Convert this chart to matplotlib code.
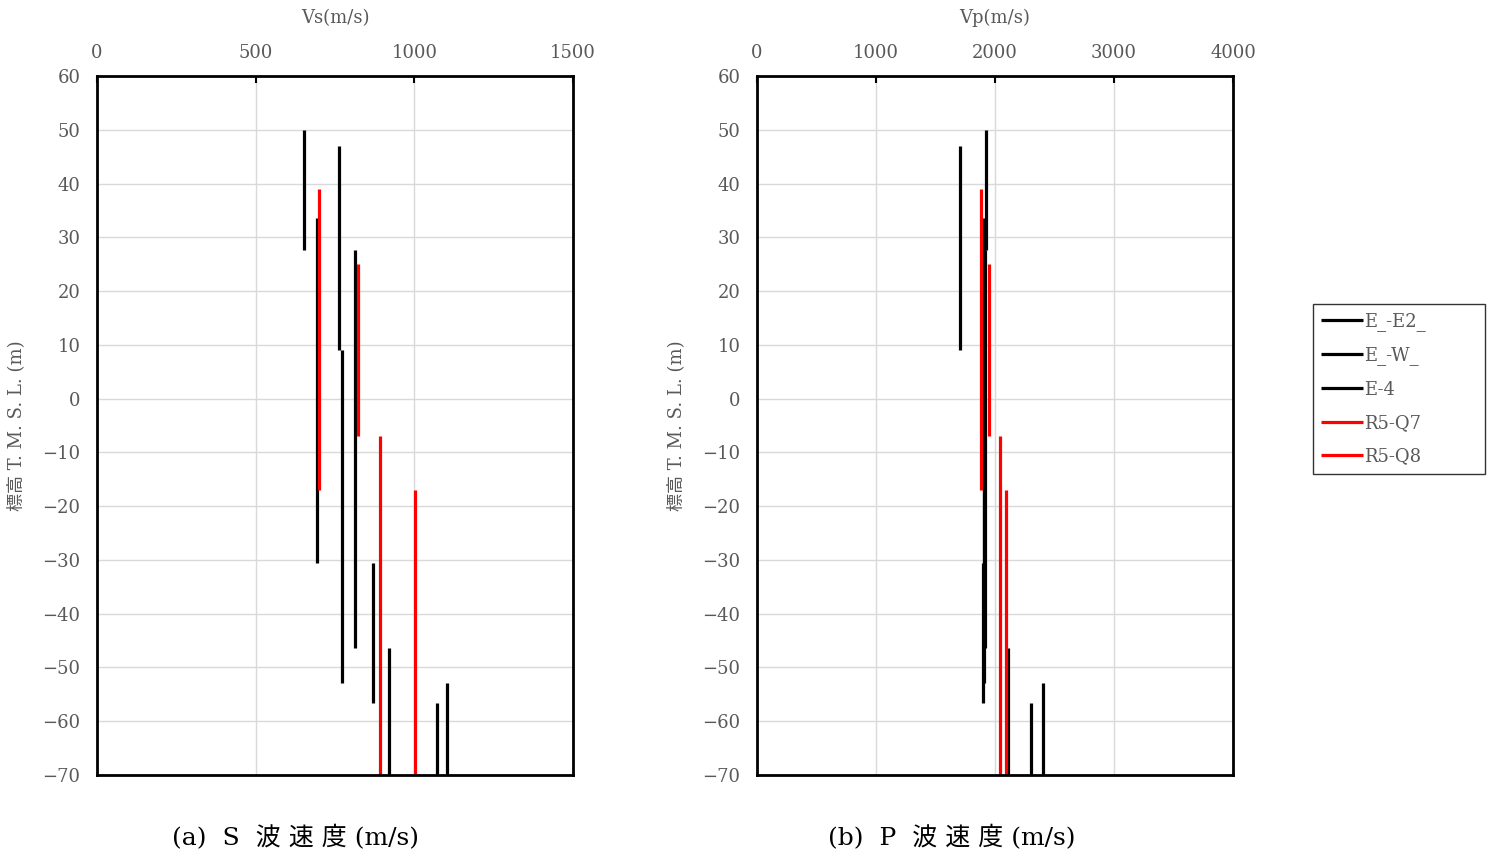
import matplotlib.pyplot as plt

plt.rcParams['font.family'] = ['DejaVu Serif', 'Noto Sans CJK JP']

# borehole names and colours
names = ["E_-E2_", "E_-W_", "E-4", "R5-Q7", "R5-Q8"]
colors = ["black", "black", "black", "red", "red"]

# layer boundaries (elevation, m) for each borehole, top to bottom
depths = [
    [50, 27.7, -46.4, -70],
    [47, 9, -52.9, -70],
    [33.5, -30.5, -56.7, -70],
    [39, -17, -70],
    [25, -7, -70],
]

# S-wave velocity of each layer (m/s)
vs = [
    [652, 813, 921],
    [762, 772, 1102],
    [692, 871, 1073],
    [701, 1002],
    [822, 892],
]

# P-wave velocity of each layer (m/s)
vp = [
    [1924, 1915, 2112],
    [1703, 1905, 2406],
    [1908, 1898, 2303],
    [1882, 2095],
    [1952, 2045],
]

gray = "#595959"

fig = plt.figure(figsize=(14.88, 8.58), dpi=100)
ax1 = fig.add_axes([97 / 1488, 1 - 775 / 858, 476 / 1488, 699 / 858])
ax2 = fig.add_axes([757 / 1488, 1 - 775 / 858, 476 / 1488, 699 / 858])


def draw(ax, vel, xmax, xstep, xlabel):
    for i, name in enumerate(names):
        d = depths[i]
        for j, v in enumerate(vel[i]):
            ax.plot([v, v], [d[j], d[j + 1]], color=colors[i], lw=2.3,
                    solid_capstyle="butt", label=name if j == 0 else None)
    ax.set_xlim(0, xmax)
    ax.set_ylim(-70, 60)
    ax.set_xticks(range(0, xmax + 1, xstep))
    ax.set_yticks(range(-70, 61, 10))
    ax.xaxis.tick_top()
    ax.set_xlabel(xlabel, fontsize=13, color=gray)
    ax.xaxis.set_label_coords(0.5, 1 + 58 / 699)
    ax.xaxis.label.set_va("center")
    ax.set_ylabel("標高 T. M. S. L. (m)", fontsize=13, color=gray)
    ax.yaxis.set_label_coords(-72 / 476, 0.5)
    ax.tick_params(axis="x", direction="in", length=5, width=1.5,
                   labelsize=13, labelcolor=gray, pad=10)
    ax.tick_params(axis="y", length=0, labelsize=13, labelcolor=gray, pad=12)
    ax.grid(True, color="#d9d9d9", lw=1)
    ax.set_axisbelow(True)
    for s in ax.spines.values():
        s.set_linewidth(2)
        s.set_color("black")


draw(ax1, vs, 1500, 500, "Vs(m/s)")
draw(ax2, vp, 4000, 1000, "Vp(m/s)")

fig.text(295 / 1488, 1 - 838 / 858, "(a)  S  波 速 度 (m/s)", fontsize=18,
         ha="center", va="center")
fig.text(952 / 1488, 1 - 838 / 858, "(b)  P  波 速 度 (m/s)", fontsize=18,
         ha="center", va="center")

leg = fig.legend(*ax1.get_legend_handles_labels(), loc="upper left",
                 bbox_to_anchor=(1313 / 1488, 1 - 304 / 858 - 0.01,
                                 172 / 1488, 0.01),
                 mode="expand", fontsize=13, frameon=True, fancybox=False,
                 handlelength=2.3, handletextpad=0.1, labelspacing=0.85,
                 borderpad=0.45, borderaxespad=0)
leg.get_frame().set_edgecolor("black")
leg.get_frame().set_linewidth(1)
for t in leg.get_texts():
    t.set_color(gray)

fig.savefig("out.png", dpi=100)
